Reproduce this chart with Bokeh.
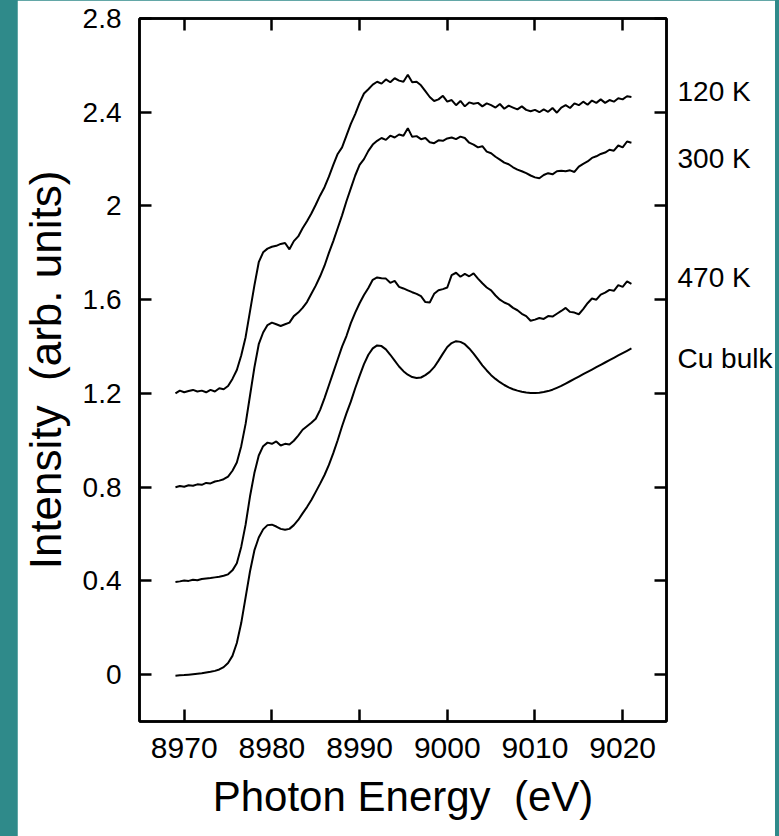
from bokeh.plotting import figure
from bokeh.models import LinearAxis, FixedTicker, NumeralTickFormatter, Range1d, Spacer
from bokeh.layouts import row
from bokeh.embed import file_html
from bokeh.resources import INLINE

# ---------------- data ----------------
energy = [
    8969.0, 8969.5, 8970.0, 8970.5, 8971.0, 8971.5, 8972.0, 8972.5, 8973.0, 8973.5,
    8974.0, 8974.5, 8975.0, 8975.5, 8976.0, 8976.5, 8977.0, 8977.5, 8978.0, 8978.5,
    8979.0, 8979.5, 8980.0, 8980.5, 8981.0, 8981.5, 8982.0, 8982.5, 8983.0, 8983.5,
    8984.0, 8984.5, 8985.0, 8985.5, 8986.0, 8986.5, 8987.0, 8987.5, 8988.0, 8988.5,
    8989.0, 8989.5, 8990.0, 8990.5, 8991.0, 8991.5, 8992.0, 8992.5, 8993.0, 8993.5,
    8994.0, 8994.5, 8995.0, 8995.5, 8996.0, 8996.5, 8997.0, 8997.5, 8998.0, 8998.5,
    8999.0, 8999.5, 9000.0, 9000.5, 9001.0, 9001.5, 9002.0, 9002.5, 9003.0, 9003.5,
    9004.0, 9004.5, 9005.0, 9005.5, 9006.0, 9006.5, 9007.0, 9007.5, 9008.0, 9008.5,
    9009.0, 9009.5, 9010.0, 9010.5, 9011.0, 9011.5, 9012.0, 9012.5, 9013.0, 9013.5,
    9014.0, 9014.5, 9015.0, 9015.5, 9016.0, 9016.5, 9017.0, 9017.5, 9018.0, 9018.5,
    9019.0, 9019.5, 9020.0, 9020.5, 9021.0,
]

int_120K = [
    1.200, 1.212, 1.205, 1.210, 1.215, 1.208, 1.212, 1.205, 1.215, 1.208,
    1.222, 1.218, 1.232, 1.262, 1.300, 1.362, 1.440, 1.550, 1.660, 1.760,
    1.802, 1.818, 1.826, 1.830, 1.838, 1.842, 1.815, 1.850, 1.870, 1.905,
    1.935, 1.968, 2.005, 2.045, 2.080, 2.125, 2.175, 2.222, 2.250, 2.300,
    2.350, 2.392, 2.440, 2.480, 2.498, 2.518, 2.530, 2.522, 2.540, 2.528,
    2.545, 2.535, 2.530, 2.560, 2.528, 2.530, 2.515, 2.490, 2.465, 2.448,
    2.455, 2.470, 2.445, 2.452, 2.430, 2.448, 2.425, 2.442, 2.436, 2.440,
    2.425, 2.438, 2.430, 2.420, 2.435, 2.415, 2.428, 2.420, 2.412, 2.425,
    2.410, 2.404, 2.410, 2.400, 2.412, 2.402, 2.418, 2.398, 2.420, 2.430,
    2.418, 2.438, 2.430, 2.445, 2.432, 2.450, 2.440, 2.455, 2.440, 2.452,
    2.445, 2.460, 2.455, 2.468, 2.465,
]

int_300K = [
    0.800, 0.805, 0.802, 0.808, 0.806, 0.812, 0.810, 0.818, 0.816, 0.824,
    0.828, 0.834, 0.845, 0.870, 0.905, 0.975, 1.070, 1.190, 1.310, 1.410,
    1.460, 1.492, 1.502, 1.495, 1.488, 1.495, 1.502, 1.530, 1.545, 1.565,
    1.590, 1.625, 1.660, 1.700, 1.745, 1.800, 1.850, 1.905, 1.960, 2.020,
    2.075, 2.130, 2.175, 2.200, 2.235, 2.262, 2.278, 2.290, 2.282, 2.300,
    2.292, 2.305, 2.300, 2.332, 2.295, 2.298, 2.285, 2.290, 2.272, 2.268,
    2.280, 2.278, 2.288, 2.292, 2.285, 2.296, 2.290, 2.270, 2.262, 2.250,
    2.255, 2.232, 2.225, 2.210, 2.198, 2.185, 2.178, 2.165, 2.155, 2.148,
    2.140, 2.130, 2.122, 2.118, 2.132, 2.140, 2.135, 2.148, 2.150, 2.148,
    2.152, 2.145, 2.168, 2.180, 2.190, 2.205, 2.212, 2.222, 2.228, 2.240,
    2.236, 2.258, 2.250, 2.275, 2.270,
]

int_470K = [
    0.395, 0.398, 0.402, 0.400, 0.405, 0.403, 0.408, 0.410, 0.412, 0.415,
    0.418, 0.422, 0.428, 0.445, 0.475, 0.545, 0.640, 0.760, 0.860, 0.935,
    0.975, 0.990, 0.985, 0.995, 0.978, 0.985, 0.982, 0.998, 1.020, 1.045,
    1.060, 1.075, 1.092, 1.130, 1.180, 1.235, 1.290, 1.345, 1.400, 1.445,
    1.500, 1.545, 1.585, 1.620, 1.650, 1.685, 1.695, 1.692, 1.690, 1.672,
    1.680, 1.655, 1.648, 1.640, 1.632, 1.625, 1.615, 1.590, 1.588, 1.625,
    1.640, 1.645, 1.652, 1.705, 1.715, 1.698, 1.710, 1.700, 1.712, 1.690,
    1.670, 1.652, 1.640, 1.618, 1.600, 1.588, 1.580, 1.565, 1.555, 1.540,
    1.530, 1.510, 1.515, 1.522, 1.518, 1.530, 1.528, 1.540, 1.552, 1.565,
    1.548, 1.545, 1.538, 1.560, 1.585, 1.605, 1.600, 1.622, 1.630, 1.642,
    1.638, 1.662, 1.655, 1.678, 1.668,
]

int_cu_bulk = [
    -0.005, -0.003, -0.002, 0.000, 0.002, 0.004, 0.006, 0.009, 0.012, 0.016,
    0.022, 0.032, 0.050, 0.080, 0.135, 0.220, 0.330, 0.440, 0.530, 0.585,
    0.620, 0.638, 0.640, 0.632, 0.622, 0.618, 0.622, 0.638, 0.660, 0.688,
    0.715, 0.745, 0.780, 0.815, 0.852, 0.895, 0.945, 1.000, 1.060, 1.115,
    1.165, 1.222, 1.275, 1.325, 1.365, 1.392, 1.405, 1.402, 1.388, 1.365,
    1.340, 1.315, 1.295, 1.280, 1.270, 1.266, 1.268, 1.278, 1.292, 1.312,
    1.340, 1.370, 1.398, 1.415, 1.423, 1.420, 1.410, 1.392, 1.370, 1.345,
    1.320, 1.298, 1.278, 1.262, 1.248, 1.236, 1.226, 1.218, 1.212, 1.207,
    1.204, 1.202, 1.202, 1.203, 1.206, 1.210, 1.216, 1.224, 1.232, 1.242,
    1.252, 1.262, 1.272, 1.282, 1.292, 1.302, 1.312, 1.322, 1.332, 1.342,
    1.352, 1.362, 1.372, 1.382, 1.392,
]

x_ticks = [8970, 8980, 8990, 9000, 9010, 9020]
y_ticks = [0, 0.4, 0.8, 1.2, 1.6, 2.0, 2.4, 2.8]

series_labels = ["120 K", "300 K", "470 K", "Cu bulk"]
label_positions = [2.488, 2.202, 1.694, 1.349]

x_title = "Photon Energy \u00a0(eV)"
y_title = "Intensity \u00a0(arb. units)"

# ---------------- styling ----------------
FONT = "Liberation Sans"
BG = "#2f8a8a"

p = figure(
    width=758, height=836,
    x_range=Range1d(8964.9, 9025.0), y_range=Range1d(-0.2, 2.8),
    output_backend="svg", toolbar_location=None,
    min_border_left=120, min_border_right=108,
    min_border_top=18, min_border_bottom=115,
    background_fill_color="white", border_fill_color="white",
    x_axis_label=x_title,
    y_axis_label=y_title,
)
p.grid.visible = False
p.outline_line_color = "black"
p.outline_line_width = 2.5

for s in [int_120K, int_300K, int_470K, int_cu_bulk]:
    p.line(energy, s, line_color="black", line_width=2)

# bottom axis
xa = p.xaxis[0]
xa.ticker = FixedTicker(ticks=x_ticks)
xa.formatter = NumeralTickFormatter(format="0")
# left axis
ya = p.yaxis[0]
ya.ticker = FixedTicker(ticks=y_ticks)
ya.formatter = NumeralTickFormatter(format="0.[0]")

for ax in (xa, ya):
    ax.major_tick_in = 12
    ax.major_tick_out = 0
    ax.minor_tick_in = 0
    ax.minor_tick_out = 0
    ax.major_tick_line_width = 2.5
    ax.axis_line_width = 2.5
    ax.major_label_text_font = FONT
    ax.major_label_text_color = "black"
    ax.axis_label_text_font = FONT
    ax.axis_label_text_font_style = "normal"
    ax.axis_label_text_color = "black"

xa.major_label_text_font_size = "30px"
xa.major_label_standoff = 16
xa.axis_label_text_font_size = "42px"
xa.axis_label_standoff = 12

ya.major_label_text_font_size = "28px"
ya.major_label_standoff = 18
ya.axis_label_text_font_size = "44px"
ya.axis_label_standoff = 10

# top axis: inward ticks only
top = LinearAxis(ticker=FixedTicker(ticks=[], minor_ticks=x_ticks))
top.axis_line_width = 2.5
top.minor_tick_in = 12
top.minor_tick_out = 0
top.minor_tick_line_width = 2.5
top.major_tick_in = 0
top.major_tick_out = 0
p.add_layout(top, "above")

# right axis: inward ticks + series labels
right = LinearAxis(ticker=FixedTicker(ticks=label_positions, minor_ticks=y_ticks))
right.major_label_overrides = {v: t for v, t in zip(label_positions, series_labels)}
right.axis_line_width = 2.5
right.minor_tick_in = 12
right.minor_tick_out = 0
right.minor_tick_line_width = 2.5
right.major_tick_in = 0
right.major_tick_out = 0
right.major_tick_line_color = None
right.major_label_standoff = 11
right.major_label_text_font = FONT
right.major_label_text_font_size = "28px"
right.major_label_text_color = "black"
p.add_layout(right, "right")

page = row(
    Spacer(width=17, height=836, styles={"background-color": BG}),
    p,
    Spacer(width=4, height=836, styles={"background-color": BG}),
    styles={"background-color": BG},
)

open("out.html", "w").write(file_html(page, INLINE))
